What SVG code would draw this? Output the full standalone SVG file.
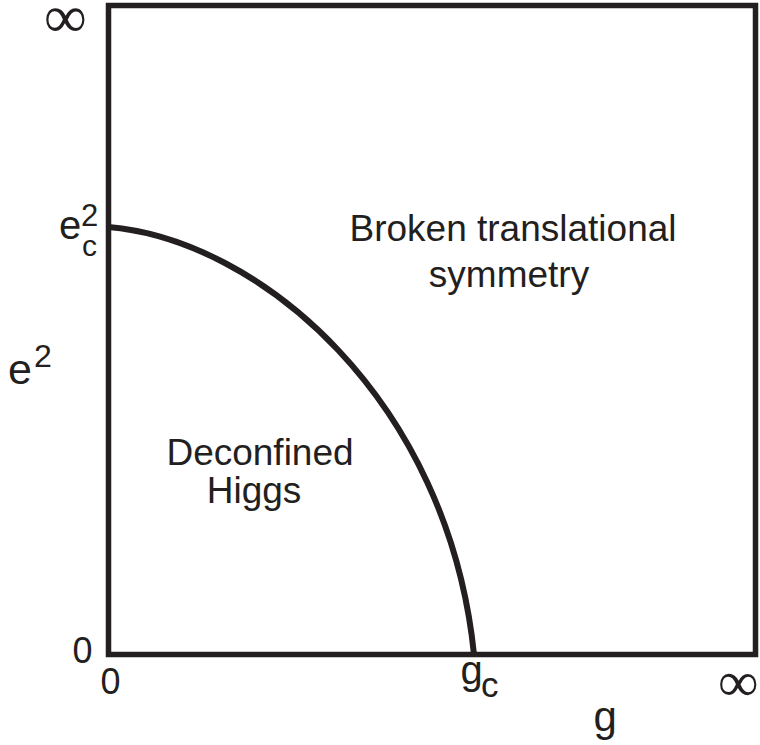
<svg xmlns="http://www.w3.org/2000/svg" width="760" height="745" viewBox="0 0 760 745">
<style>
text{font-family:"Liberation Sans",Arial,sans-serif;fill:#231f20}
.inf{font-family:"Liberation Serif","Times New Roman",serif}
.frame{fill:none;stroke:#231f20;stroke-width:5.5}
.curve{fill:none;stroke:#231f20;stroke-width:6}
</style>
<rect width="760" height="745" fill="#ffffff"/>
<g id="frame"><rect class="frame" x="108.5" y="5.5" width="647" height="649"/></g>
<g id="connectors"><path id="boundary" class="curve" d="M108.5,227 C260,240 448,400 474,654.5"/></g>
<g id="region-broken"><text x="513" y="241" font-size="37" text-anchor="middle">Broken translational</text><text x="509" y="287" font-size="37" text-anchor="middle">symmetry</text></g>
<g id="region-higgs"><text x="260" y="465" font-size="37" text-anchor="middle">Deconfined</text><text x="254" y="503" font-size="37" text-anchor="middle">Higgs</text></g>
<g id="label-ec2"><text x="59" y="239" font-size="40">e</text><text x="81" y="226" font-size="31">2</text><text x="82" y="256" font-size="30">c</text></g>
<g id="label-e2"><text x="8" y="384" font-size="43">e</text><text x="34" y="367" font-size="32">2</text></g>
<g id="label-zero-y"><text x="72.5" y="663" font-size="36">0</text></g>
<g id="label-zero-x"><text x="100.5" y="694" font-size="36">0</text></g>
<g id="label-gc"><text x="460.5" y="684" font-size="40">g</text><text x="481" y="697" font-size="35">c</text></g>
<g id="label-g"><text x="593.5" y="731" font-size="42">g</text></g>
<g id="label-inf-y"><text class="inf" x="44" y="37" font-size="60">∞</text></g>
<g id="label-inf-x"><text class="inf" x="718" y="701" font-size="57">∞</text></g>
</svg>
